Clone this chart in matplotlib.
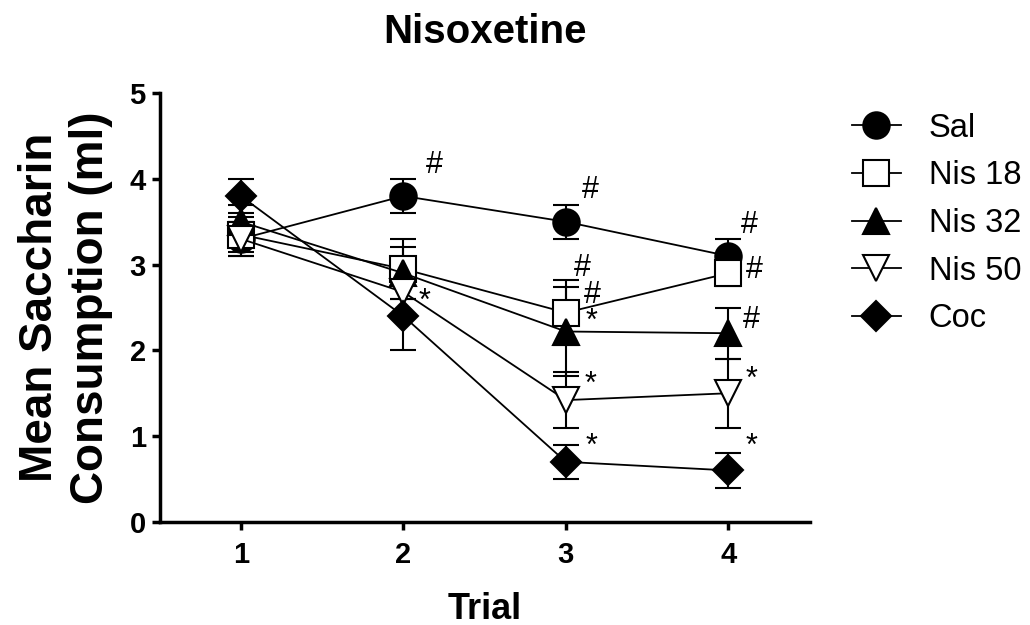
import matplotlib
matplotlib.use("Agg")
import matplotlib.pyplot as plt
from matplotlib.lines import Line2D

plt.rcParams['font.family'] = ['Liberation Sans', 'DejaVu Sans']

# dati
trial = [1, 2, 3, 4]
gruppi = ["Sal", "Nis 18", "Nis 32", "Nis 50", "Coc"]
sal = [3.3, 3.8, 3.5, 3.1]
sal_err = [0.2, 0.2, 0.2, 0.2]
nis18 = [3.35, 2.95, 2.44, 2.9]
nis18_err = [0.2, 0.35, 0.38, 0.15]
nis32 = [3.5, 2.9, 2.22, 2.2]
nis32_err = [0.2, 0.3, 0.52, 0.3]
nis50 = [3.3, 2.68, 1.42, 1.5]
nis50_err = [0.2, 0.3, 0.33, 0.4]
coc = [3.8, 2.4, 0.7, 0.6]
coc_err = [0.2, 0.4, 0.2, 0.2]

# simboli di significativita' (x, y, testo)
simboli_x = [2.19, 2.13, 3.15, 3.10, 3.16, 3.16, 3.15, 3.16, 4.13, 4.16, 4.14, 4.14, 4.14]
simboli_y = [4.16, 2.56, 3.87, 2.96, 2.65, 2.33, 1.60, 0.87, 3.46, 2.94, 2.35, 1.65, 0.87]
simboli = ["#", "*", "#", "#", "#", "*", "*", "*", "#", "#", "#", "*", "*"]

fig = plt.figure(figsize=(10.3, 6.25), dpi=100)
ax = fig.add_axes([0.155, 0.165, 0.631, 0.686])

# (valori, errori, marker, colore interno, dimensione)
stili = [
    (sal, sal_err, "o", "black", 19),
    (nis18, nis18_err, "s", "white", 18.5),
    (nis32, nis32_err, "^", "black", 19),
    (nis50, nis50_err, "v", "white", 19),
    (coc, coc_err, "D", "black", 15.5),
]
maniglie = []
for nome, (val, err, m, fc, ms) in zip(gruppi, stili):
    ax.errorbar(trial, val, yerr=err, marker=m, markersize=ms, markerfacecolor=fc,
                markeredgecolor="black", markeredgewidth=1.5, color="black",
                linewidth=1.3, capsize=9.5, capthick=1.5, elinewidth=1.5)
    maniglie.append(Line2D([], [], marker=m, markersize=ms, markerfacecolor=fc,
                           markeredgecolor="black", markeredgewidth=1.5,
                           color="black", linewidth=1.3, label=nome))

for x, y, s in zip(simboli_x, simboli_y, simboli):
    ax.text(x, y, s, fontsize=22, ha="center", va="center")

ax.set_xlim(0.5, 4.5)
ax.set_ylim(0, 5)
ax.set_xticks(trial)
ax.set_yticks([0, 1, 2, 3, 4, 5])
ax.spines['top'].set_visible(False)
ax.spines['right'].set_visible(False)
ax.spines['left'].set_linewidth(2.5)
ax.spines['bottom'].set_linewidth(2.5)
ax.tick_params(width=2.5, length=6, labelsize=21, pad=4)
ax.tick_params(axis="x", pad=8)
for lab in ax.get_xticklabels() + ax.get_yticklabels():
    lab.set_fontweight("bold")

ax.set_title("Nisoxetine", fontsize=29, fontweight="bold", pad=36)
ax.set_xlabel("Trial", fontsize=26, fontweight="bold", labelpad=16)
ax.set_ylabel("Mean Saccharin\nConsumption (ml)", fontsize=33, fontweight="bold",
              labelpad=12)

ax.legend(handles=maniglie, loc="upper left", bbox_to_anchor=(1.02, 1.023), frameon=False,
          fontsize=23.5, handlelength=1.5, labelspacing=0.51, handletextpad=0.85)

fig.savefig("out.png", dpi=100)
